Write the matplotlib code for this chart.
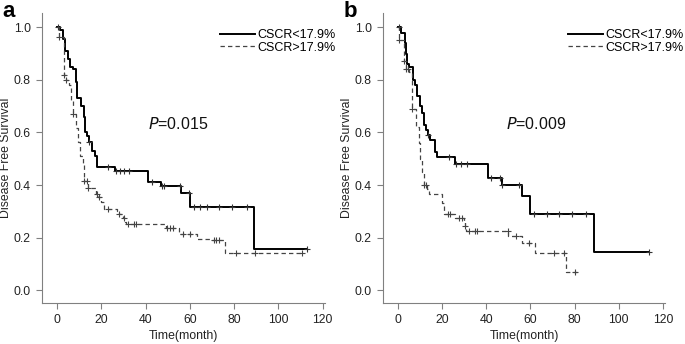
import matplotlib.pyplot as plt
import numpy as np

plt.rcParams['font.family'] = ['Liberation Sans', 'DejaVu Sans']

# panel a: CSCR<17.9% (solid)
a_low_t = [0, 1.2, 2.5, 3.5, 5, 6, 7, 8.5, 9, 11, 12, 12.5, 13.5, 14.5, 16, 17, 18, 26, 41, 47, 56, 60, 89, 113]
a_low_s = [1.0, 0.99, 0.955, 0.91, 0.88, 0.85, 0.84, 0.79, 0.73, 0.70, 0.66, 0.60, 0.585, 0.565, 0.53, 0.51, 0.47, 0.455, 0.41, 0.395, 0.37, 0.315, 0.155, 0.155]
a_low_cens = [0.5, 14.5, 23, 26.5, 28.6, 30.4, 32.6, 43, 47.5, 48.5, 55.6, 59.4, 62, 64.4, 67.7, 73.2, 79, 85.7, 113]

# panel a: CSCR>17.9% (dashed)
a_high_t = [0, 1, 3, 4, 5.5, 6.5, 7, 8.5, 9.5, 10.5, 11.5, 12, 14, 17.5, 18.5, 20, 21, 27, 28, 30, 30.5, 31, 49, 55, 63, 70, 76, 111]
a_high_s = [1.0, 0.962, 0.82, 0.80, 0.78, 0.72, 0.67, 0.615, 0.565, 0.51, 0.475, 0.415, 0.39, 0.365, 0.355, 0.335, 0.31, 0.30, 0.29, 0.275, 0.26, 0.25, 0.235, 0.215, 0.195, 0.19, 0.14, 0.14]
a_high_cens = [1, 3, 4, 7, 12.2, 13.5, 14.2, 18, 18.8, 23, 28.2, 30.2, 32, 34.6, 35.6, 49.6, 51, 52.6, 57, 60, 70.7, 72, 73, 81, 89.5, 110.5]

# panel b: CSCR<17.9% (solid)
b_low_t = [0, 1.5, 3, 3.5, 4.3, 5, 6.6, 7, 7.8, 8.6, 10, 10.8, 11.9, 12.6, 13.5, 14.5, 17, 17.6, 26, 41, 47, 56, 60, 89, 113.7]
b_low_s = [1.0, 0.98, 0.94, 0.90, 0.86, 0.85, 0.84, 0.80, 0.78, 0.74, 0.70, 0.675, 0.63, 0.61, 0.59, 0.57, 0.525, 0.505, 0.48, 0.425, 0.40, 0.36, 0.29, 0.145, 0.145]
b_low_cens = [0.5, 13.6, 23.2, 26.4, 28.5, 31.2, 42, 46.3, 47.3, 54.9, 61.7, 67.7, 73, 79, 85, 113.7]

# panel b: CSCR>17.9% (dashed)
b_high_t = [0, 0.6, 2.6, 3.6, 5, 6.3, 8, 9.5, 10, 11, 11.8, 13, 14, 20, 21, 26, 30, 30.5, 31, 50, 56, 62, 76, 81]
b_high_s = [1.0, 0.95, 0.87, 0.84, 0.83, 0.69, 0.62, 0.56, 0.50, 0.45, 0.40, 0.385, 0.365, 0.33, 0.29, 0.275, 0.26, 0.245, 0.225, 0.205, 0.18, 0.14, 0.07, 0.07]
b_high_cens = [0.6, 2.6, 3.6, 4.4, 6.3, 11.8, 12.7, 22.6, 23.5, 27.7, 29, 30.5, 32, 34.8, 35.6, 49.9, 53.4, 59.4, 70.7, 75.2, 80.2]

p_values = ['0.015', '0.009']
panel_names = ['a', 'b']
legend_labels = ['CSCR<17.9%', 'CSCR>17.9%']


def surv_at(times, surv, t):
    idx = np.searchsorted(times, t, side='right') - 1
    return np.array(surv)[idx]


fig = plt.figure(figsize=(6.85, 3.44), dpi=100)
ax_a = fig.add_axes([0.0613, 0.119, 0.413, 0.843])
ax_b = fig.add_axes([0.559, 0.119, 0.412, 0.843])

panels = [
    (ax_a, a_low_t, a_low_s, a_low_cens, a_high_t, a_high_s, a_high_cens),
    (ax_b, b_low_t, b_low_s, b_low_cens, b_high_t, b_high_s, b_high_cens),
]
p_pos = [(0.375, 0.617), (0.435, 0.617)]
leg_x = [0.629, 0.656]

for i, (ax, lt, ls, lc, ht, hs, hc) in enumerate(panels):
    ax.step(lt, ls, where='post', color='black', lw=1.4, label=legend_labels[0])
    ax.plot(lc, surv_at(lt, ls, lc), '+', color='#333333', ms=5, mew=0.8)
    ax.step(ht, hs, where='post', color='#444444', lw=0.9, ls=(0, (3.5, 2.5)), label=legend_labels[1])
    ax.plot(hc, surv_at(ht, hs, hc), '+', color='#444444', ms=5, mew=0.8)

    ax.set_xlim(-6.8, 121)
    ax.set_ylim(-0.049, 1.054)
    ax.set_xticks(np.arange(0, 121, 20))
    ax.set_yticks(np.arange(0, 1.01, 0.2))
    ax.set_yticklabels([f'{v:.1f}' for v in np.arange(0, 1.01, 0.2)])
    for side in ['top', 'right']:
        ax.spines[side].set_visible(False)
    for side in ['left', 'bottom']:
        ax.spines[side].set_color('#808080')
    ax.tick_params(direction='out', length=4.5, color='#808080', labelsize=8.8, labelcolor='#222222')
    ax.set_xlabel('Time(month)', fontsize=8.8, color='#222222', labelpad=3)
    ax.set_ylabel('Disease Free Survival', fontsize=8.8, color='#222222')
    ax.yaxis.set_label_coords(-0.105, 0.5)

    ax.text(p_pos[i][0], p_pos[i][1], '$\\it{P}$=' + p_values[i], transform=ax.transAxes,
            fontsize=11.5, color='#111111', va='center', ha='left')
    ax.legend(loc='upper left', bbox_to_anchor=(leg_x[i], 0.945), frameon=False, fontsize=9,
              handlelength=2.8, handletextpad=0.2, labelspacing=0.05, borderpad=0,
              borderaxespad=0)

fig.text(0.004, 0.998, panel_names[0], fontsize=16, fontweight='bold', va='top')
fig.text(0.502, 0.998, panel_names[1], fontsize=16, fontweight='bold', va='top')

fig.savefig('out.png', dpi=100)
